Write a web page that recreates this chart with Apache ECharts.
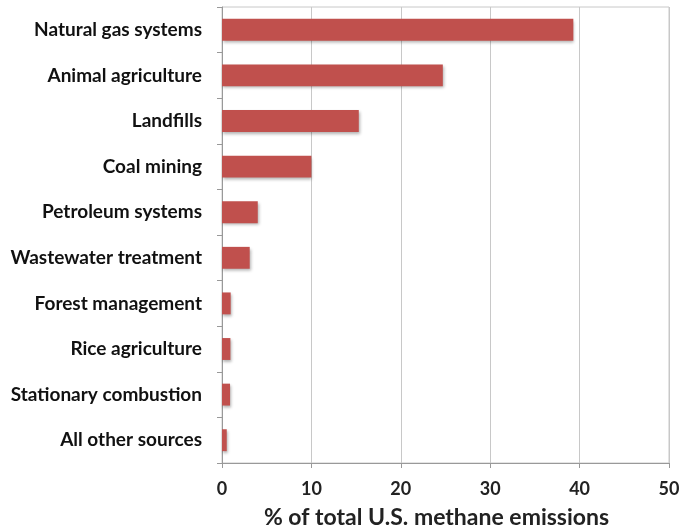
<!DOCTYPE html>
<html><head><meta charset="utf-8">
<script src="https://cdn.jsdelivr.net/npm/echarts@6/dist/echarts.min.js"></script>
<style>html,body{margin:0;padding:0;background:#fff}#c{width:692px;height:529px}</style>
</head><body><div id="c"></div>
<script>
const categories = ["Natural gas systems","Animal agriculture","Landfills","Coal mining","Petroleum systems","Wastewater treatment","Forest management","Rice agriculture","Stationary combustion","All other sources"];
const values = [39.3, 24.7, 15.3, 10.0, 4.0, 3.1, 0.97, 0.94, 0.9, 0.53];
const xTicks = [0, 10, 20, 30, 40, 50];
const xTitle = "% of total U.S. methane emissions";

const chart = echarts.init(document.getElementById('c'));
chart.setOption({
  animation: false,
  grid: {left: 222, right: 23, top: 7, bottom: 66, containLabel: false, outerBoundsMode: 'none', show: true, borderColor: '#c8c8c8', borderWidth: 1},
  xAxis: {
    type: 'value', min: xTicks[0], max: xTicks[xTicks.length-1], interval: 10,
    name: xTitle, nameLocation: 'middle', nameGap: 43,
    nameTextStyle: {fontFamily: 'Lato', fontWeight: 'bold', fontSize: 23, color: '#222', padding: [0, 18, 0, 0]},
    axisLine: {show: true, lineStyle: {color: '#999'}},
    axisTick: {show: true, length: 5, lineStyle: {color: '#999'}},
    axisLabel: {fontFamily: 'Lato', fontWeight: 'bold', fontSize: 18, color: '#222', margin: 17},
    splitLine: {show: true, lineStyle: {color: '#c8c8c8'}}
  },
  yAxis: {
    type: 'category', data: categories, inverse: true,
    axisLine: {show: true, lineStyle: {color: '#999'}},
    axisTick: {show: true, length: 5, lineStyle: {color: '#999'}},
    axisLabel: {fontFamily: 'Lato', fontWeight: 'bold', fontSize: 19, color: '#111', margin: 20}
  },
  series: [{
    type: 'bar', data: values, barWidth: '48%',
    itemStyle: {color: '#c0504d', shadowColor: 'rgba(0,0,0,0.3)', shadowBlur: 3, shadowOffsetX: 1, shadowOffsetY: 2}
  }]
});
</script></body></html>
